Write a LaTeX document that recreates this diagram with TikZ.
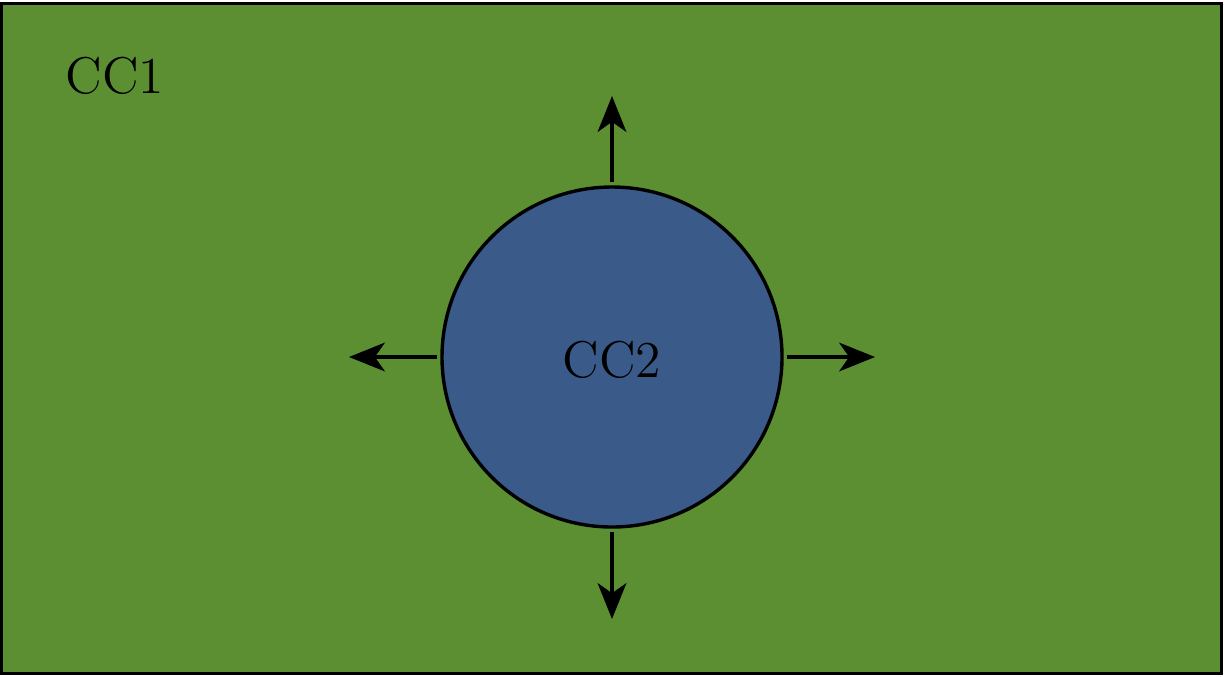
\documentclass[tikz,border=0pt]{standalone}
\usetikzlibrary{arrows.meta}
\definecolor{ccgreen}{HTML}{5B8F32}
\definecolor{ccblue}{HTML}{3A5A89}
\begin{document}
\begin{tikzpicture}[x=0.009796cm,y=-0.009796cm,
  arr/.style={line width=0.95pt,-{Stealth[length=10pt,width=8pt,inset=2.8pt]}},
  lbl/.style={font=\Large,inner sep=0pt}]
\useasboundingbox (0,0) rectangle (1225,676);
\draw[line width=0.95pt,fill=ccgreen] (1.5,3.5) rectangle (1221.5,673.5);
\node[draw,line width=0.95pt,fill=ccblue,circle,minimum size={340*0.009796cm},inner sep=0pt,outer sep=1.5pt] (c) at (612,357) {};
\node[lbl] (cc2) at (612,360) {CC2};
\node[lbl] (cc1) at (115,76) {CC1};
\coordinate (tu) at (612,96);
\coordinate (td) at (612,619);
\coordinate (tl) at (349,357);
\coordinate (tr) at (875,357);
\draw[arr] (c.north) -- (tu);
\draw[arr] (c.south) -- (td);
\draw[arr] (c.west) -- (tl);
\draw[arr] (c.east) -- (tr);
\end{tikzpicture}
\end{document}
